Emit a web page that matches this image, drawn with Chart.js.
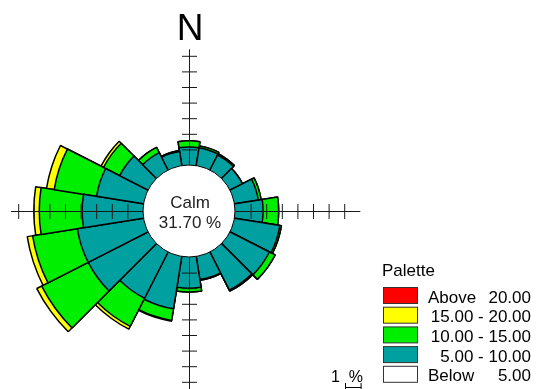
<!DOCTYPE html>
<html>
<head>
<meta charset="utf-8">
<script src="https://cdn.jsdelivr.net/npm/chart.js@4/dist/chart.umd.min.js"></script>
<style>
  html, body { margin: 0; padding: 0; background: #ffffff; }
  #wrap { width: 537px; height: 389px; position: relative; }
</style>
</head>
<body>
<div id="wrap"><canvas id="rose" width="537" height="389"></canvas></div>
<script>
// Direction sectors (degrees clockwise from north), 18° wide each
const directions = ['0', '18', '36', '54', '72', '90', '108', '126', '144', '162',
                    '180', '198', '216', '234', '252', '270', '288', '306', '324', '342'];

// Frequency (%) of each wind-speed class per direction sector
const speed5to10   = [1.15, 1.15, 1.08, 0.90, 1.55, 1.80, 2.95, 2.84, 2.75, 1.50,
                      2.00, 3.40, 3.33, 4.30, 4.30, 3.90, 3.05, 2.04, 1.25, 0.92];
const speed10to15  = [0.40, 0.12, 0.09, 0.00, 0.18, 1.00, 0.10, 0.41, 0.07, 0.05,
                      0.25, 0.75, 2.02, 3.35, 2.90, 2.75, 2.75, 1.16, 0.38, 0.06];
const speed15to20  = [0.00, 0.00, 0.00, 0.00, 0.00, 0.00, 0.00, 0.00, 0.00, 0.00,
                      0.00, 0.05, 0.20, 0.35, 0.35, 0.35, 0.50, 0.18, 0.00, 0.00];
const speedAbove20 = [0, 0, 0, 0, 0, 0, 0, 0, 0, 0, 0, 0, 0, 0, 0, 0, 0, 0, 0, 0];

const calmPercent = 31.70;

// Palette legend, top to bottom
const paletteWords  = ['Above', '', '', '', 'Below'];
const paletteRanges = ['20.00', '15.00 - 20.00', '10.00 - 15.00', '5.00 - 10.00', '5.00'];
const paletteColors = ['#ff0000', '#ffff00', '#00ee00', '#00a0a0', '#ffffff'];

// Percent rings marked on the N, E, S, W axes and how far each axis reaches
const axisTickCount = [7, 7, 8, 8];
const axisReach     = [7.45, 8.0, 8.8, 8.5];

const FONT = '"Liberation Sans", Arial, sans-serif';

// Stack the classes outward: each ring is the running total up to that class
const classSeries = [
  { values: speed5to10,   color: paletteColors[3] },
  { values: speed10to15,  color: paletteColors[2] },
  { values: speed15to20,  color: paletteColors[1] },
  { values: speedAbove20, color: paletteColors[0] }
];
const running = directions.map(() => 0);
const datasets = [];
classSeries.forEach((cls, k) => {
  const hasData = cls.values.some(v => v > 0);
  cls.values.forEach((v, i) => { running[i] += v; });
  if (!hasData) return;
  datasets.push({
    label: 'class' + k,
    data: running.slice(),
    backgroundColor: cls.color,
    borderColor: '#000000',
    borderWidth: 1.5
  });
});

// Ring scale: 0 % sits on the edge of the calm circle, 15.6 px per percent
const PX_PER_PCT = 15.6;
const CALM_RADIUS = 46;
const HALF = 170;
const rMin = -CALM_RADIUS / PX_PER_PCT;
const rMax = rMin + HALF / PX_PER_PCT;

const roseDecor = {
  id: 'roseDecor',
  afterDatasetsDraw(chart) {
    const s = chart.scales.r;
    const ctx = chart.ctx;
    const cx = s.xCenter, cy = s.yCenter;
    const r0 = s.getDistanceFromCenterForValue(0);
    ctx.save();

    // calm circle
    ctx.beginPath();
    ctx.arc(cx, cy, r0, 0, Math.PI * 2);
    ctx.fillStyle = '#ffffff';
    ctx.fill();
    ctx.lineWidth = 1;
    ctx.strokeStyle = '#000000';
    ctx.stroke();

    // compass axes with a tick at every percent
    const dirs = [[0, -1], [1, 0], [0, 1], [-1, 0]];
    const ax = cx + 0.5, ay = cy + 0.5;
    ctx.strokeStyle = '#1a1a1a';
    ctx.lineWidth = 1;
    dirs.forEach(([dx, dy], d) => {
      const end = s.getDistanceFromCenterForValue(axisReach[d]);
      ctx.beginPath();
      ctx.moveTo(ax + dx * r0, ay + dy * r0);
      ctx.lineTo(ax + dx * end, ay + dy * end);
      for (let n = 1; n <= axisTickCount[d]; n++) {
        const r = s.getDistanceFromCenterForValue(n);
        const px = ax + dx * r, py = ay + dy * r;
        const t = 7.5;
        ctx.moveTo(px - dy * t, py - dx * t);
        ctx.lineTo(px + dy * t, py + dx * t);
      }
      ctx.stroke();
    });

    // calm label
    ctx.fillStyle = '#222222';
    ctx.textAlign = 'center';
    ctx.textBaseline = 'alphabetic';
    ctx.font = '17px ' + FONT;
    ctx.fillText('Calm', cx + 1, cy - 3);
    ctx.fillText(calmPercent.toFixed(2) + ' %', cx + 1, cy + 17);

    // north marker
    ctx.fillStyle = '#000000';
    ctx.font = '37px ' + FONT;
    ctx.fillText('N', cx + 1, 40);

    // palette legend
    ctx.textAlign = 'left';
    ctx.font = '17px ' + FONT;
    ctx.fillText('Palette', 382, 276);
    paletteColors.forEach((c, i) => {
      const top = 287.5 + i * 19.7;
      ctx.fillStyle = c;
      ctx.fillRect(383.5, top, 34, 16);
      ctx.strokeStyle = '#333333';
      ctx.strokeRect(383.5, top, 34, 16);
      ctx.fillStyle = '#000000';
      ctx.textAlign = 'left';
      if (paletteWords[i]) ctx.fillText(paletteWords[i], 428, top + 15);
      ctx.textAlign = 'right';
      ctx.fillText(paletteRanges[i], 531, top + 15);
    });

    // one-percent scale bar
    const unit = s.getDistanceFromCenterForValue(1) - r0;
    ctx.textAlign = 'left';
    ctx.font = '16px ' + FONT;
    ctx.fillStyle = '#000000';
    ctx.fillText('1  %', 331, 382);
    ctx.strokeStyle = '#000000';
    ctx.beginPath();
    ctx.moveTo(345.5, 387.5); ctx.lineTo(345.5 + unit, 387.5);
    ctx.moveTo(345.5, 383); ctx.lineTo(345.5, 392);
    ctx.moveTo(345.5 + unit, 383); ctx.lineTo(345.5 + unit, 392);
    ctx.stroke();

    ctx.restore();
  }
};

new Chart(document.getElementById('rose'), {
  type: 'polarArea',
  data: { labels: directions, datasets: datasets },
  options: {
    responsive: false,
    animation: false,
    layout: { padding: { left: 19, top: 41, right: 178, bottom: 8 } },
    plugins: { legend: { display: false }, tooltip: { enabled: false } },
    scales: {
      r: {
        min: rMin,
        max: rMax,
        startAngle: -9,
        ticks: { display: false },
        grid: { display: false },
        angleLines: { display: false },
        pointLabels: { display: false }
      }
    }
  },
  plugins: [roseDecor]
});
</script>
</body>
</html>
